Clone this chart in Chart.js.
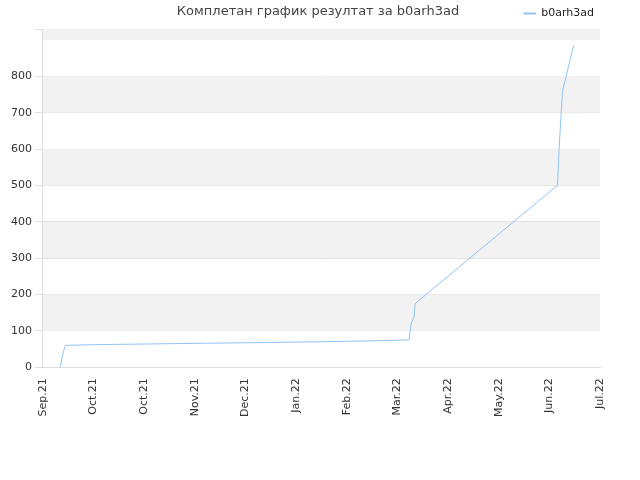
<!DOCTYPE html><html><head><meta charset="utf-8"><script src="https://cdn.jsdelivr.net/npm/chart.js@4"></script>
<style>body{margin:0;background:#fff}</style></head><body><canvas id="c" width="640" height="480"></canvas>
<script>
const titleText='Комплетан график резултат за b0arh3ad';
const tickLabels=["Sep.21","Oct.21","Oct.21","Nov.21","Dec.21","Jan.22","Feb.22","Mar.22","Apr.22","May.22","Jun.22","Jul.22"];
const xs=[0.34,0.38,0.44,0.98,2.12,3.25,4.39,5.51,6.65,7.23,7.27,7.33,7.35,10.16,10.2,10.26,10.48];
const ys=[0,30,60,62,64,66,68,70,73,75,120,140,175,500,620,760,885];
const bands={id:'bands',beforeDatasetsDraw(ch){const{ctx,chartArea:a,scales:{y}}=ch;ctx.save();ctx.fillStyle='#f2f2f2';
for(const [lo,hi] of [[100,200],[300,400],[500,600],[700,800],[900,930]]){const t=y.getPixelForValue(hi),b=y.getPixelForValue(lo);ctx.fillRect(a.left,t,a.right-a.left,b-t);}ctx.restore();},
afterDraw(ch){const ctx=ch.ctx;ctx.save();ctx.font='13px "DejaVu Sans"';ctx.fillStyle='#444';ctx.textAlign='center';ctx.textBaseline='middle';ctx.fillText(titleText,318,12);ctx.restore();}};
new Chart(document.getElementById('c'),{type:'line',data:{datasets:[{label:'b0arh3ad',data:xs.map((x,i)=>({x,y:ys[i]})),borderColor:'#90c4f5',backgroundColor:'#90c4f5',borderWidth:1,pointRadius:0,tension:0}]},
options:{responsive:false,animation:false,layout:{padding:{left:8,right:40,top:2,bottom:60}},
plugins:{title:{display:false},
legend:{position:'top',align:'end',labels:{boxWidth:12,boxHeight:1,padding:6,color:'#222',font:{family:'DejaVu Sans',size:11}}},tooltip:{enabled:false}},
scales:{x:{type:'linear',min:0,max:11,grid:{display:false},border:{color:'#ddd'},ticks:{stepSize:1,autoSkip:false,maxRotation:90,minRotation:90,color:'#333',font:{family:'DejaVu Sans',size:11},callback:v=>tickLabels[v]}},
y:{min:0,max:930,grid:{color:'#ddd'},border:{color:'#ddd'},ticks:{stepSize:100,color:'#333',font:{family:'DejaVu Sans',size:11},callback:v=>v%100===0?v:''}}}},plugins:[bands]});
</script></body></html>
